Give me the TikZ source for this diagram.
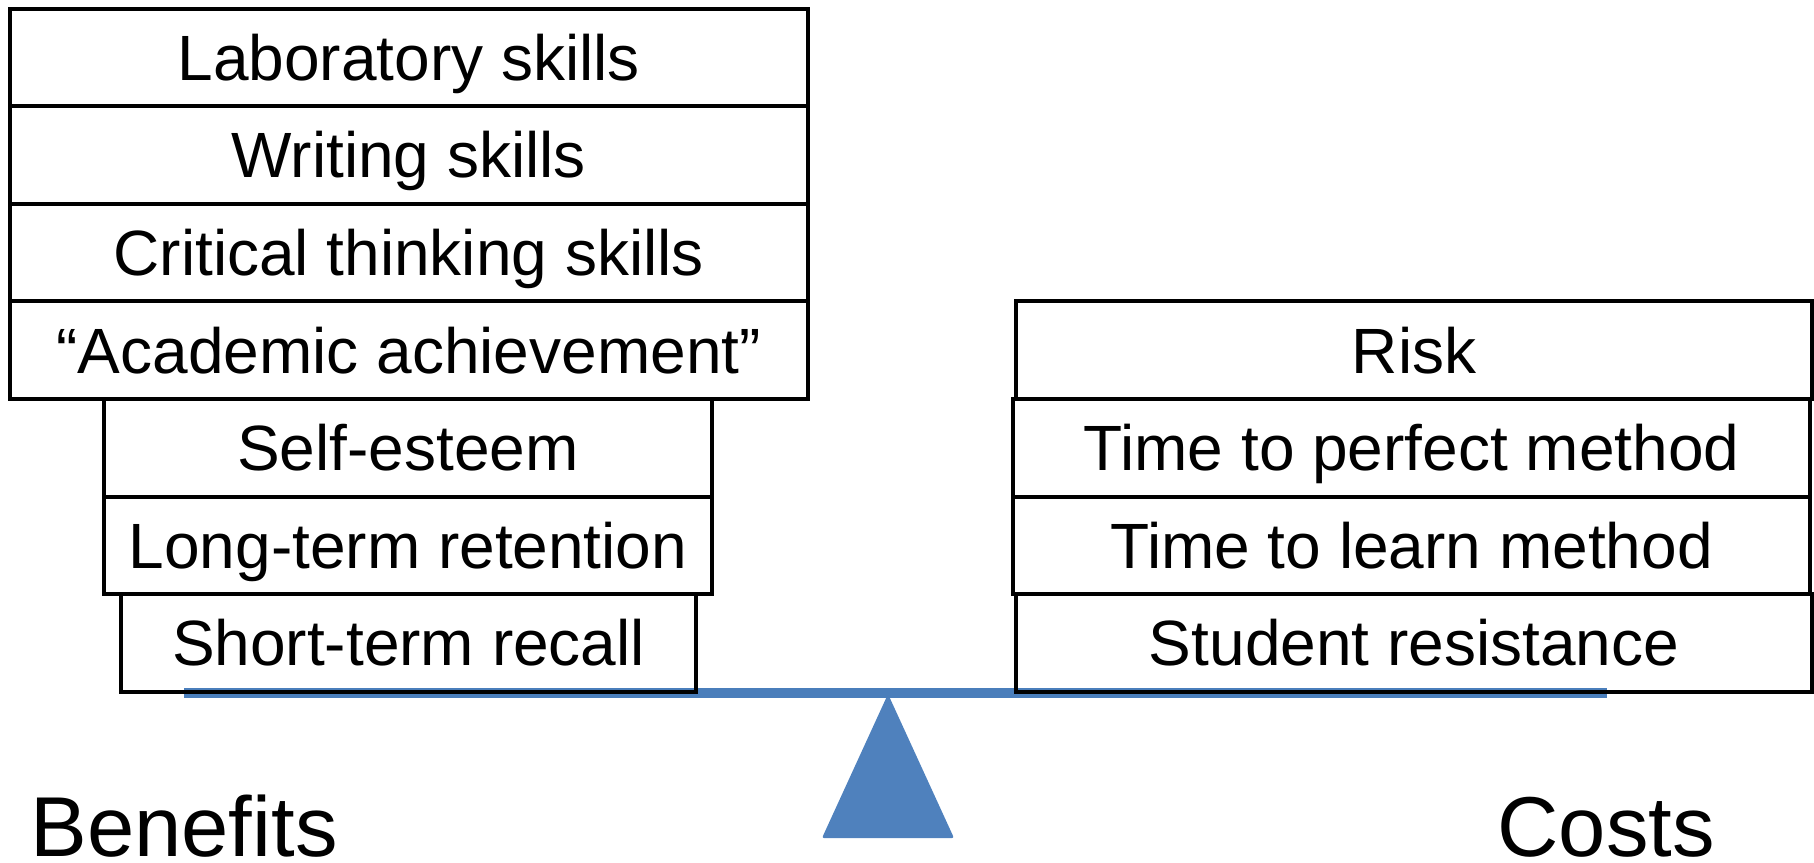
\documentclass[tikz,border=0pt]{standalone}
\usepackage{fontspec}
\setmainfont{Liberation Sans}
\definecolor{beamblue}{HTML}{4A7EBB}
\definecolor{fulcrumblue}{HTML}{4F81BD}
\begin{document}
\begin{tikzpicture}[x=0.5pt,y=-0.5pt,
  item/.style={draw=black, line width=2pt, inner sep=0pt, minimum height=48.8pt,
    text height=22.9pt, text depth=0pt, font=\fontsize{32}{38}\selectfont},
  wide/.style={item, minimum width=399.25pt},
  mid/.style={item, minimum width=304pt},
  narrow/.style={item, minimum width=287.5pt},
  cost/.style={item, minimum width=398pt},
  costtime/.style={item, minimum width=398.5pt},
  side/.style={inner sep=0pt, anchor=base west, font=\fontsize{42.5}{50}\selectfont}]
\useasboundingbox (0,0) rectangle (1814,862);

% the see-saw: fulcrum and beam
\fill[fulcrumblue, rounded corners=1pt] (888,694) -- (954,838) -- (822,838) -- cycle;
\coordinate (beamL) at (184,693);
\coordinate (beamR) at (1607,693);
\draw[beamblue, line width=5pt] (beamL) -- (beamR);

% benefits stack
\node[wide]   (lab)   at (408.75,57.3)  {Laboratory skills};
\node[wide]   (write) at (408.75,154.9) {Writing skills};
\node[wide]   (crit)  at (408.75,252.5) {Critical thinking skills};
\node[wide]   (acad)  at (408.75,350.1) {“Academic achievement”};
\node[mid]    (self)  at (408,447.7)    {Self-esteem};
\node[mid]    (long)  at (408,545.3)    {Long-term retention};
\node[narrow] (short) at (408.5,642.9)  {Short-term recall};

% costs stack
\node[cost]     (risk)    at (1414,350.1)   {Risk};
\node[costtime] (perfect) at (1411.5,447.7) {Time to perfect method};
\node[costtime] (learn)   at (1411.5,545.3) {Time to learn method};
\node[cost]     (resist)  at (1414,642.9)   {Student resistance};

% side labels
\node[side] (benefits) at (30,856)   {Benefits};
\node[side] (costs)    at (1497,856) {Costs};
\end{tikzpicture}
\end{document}
